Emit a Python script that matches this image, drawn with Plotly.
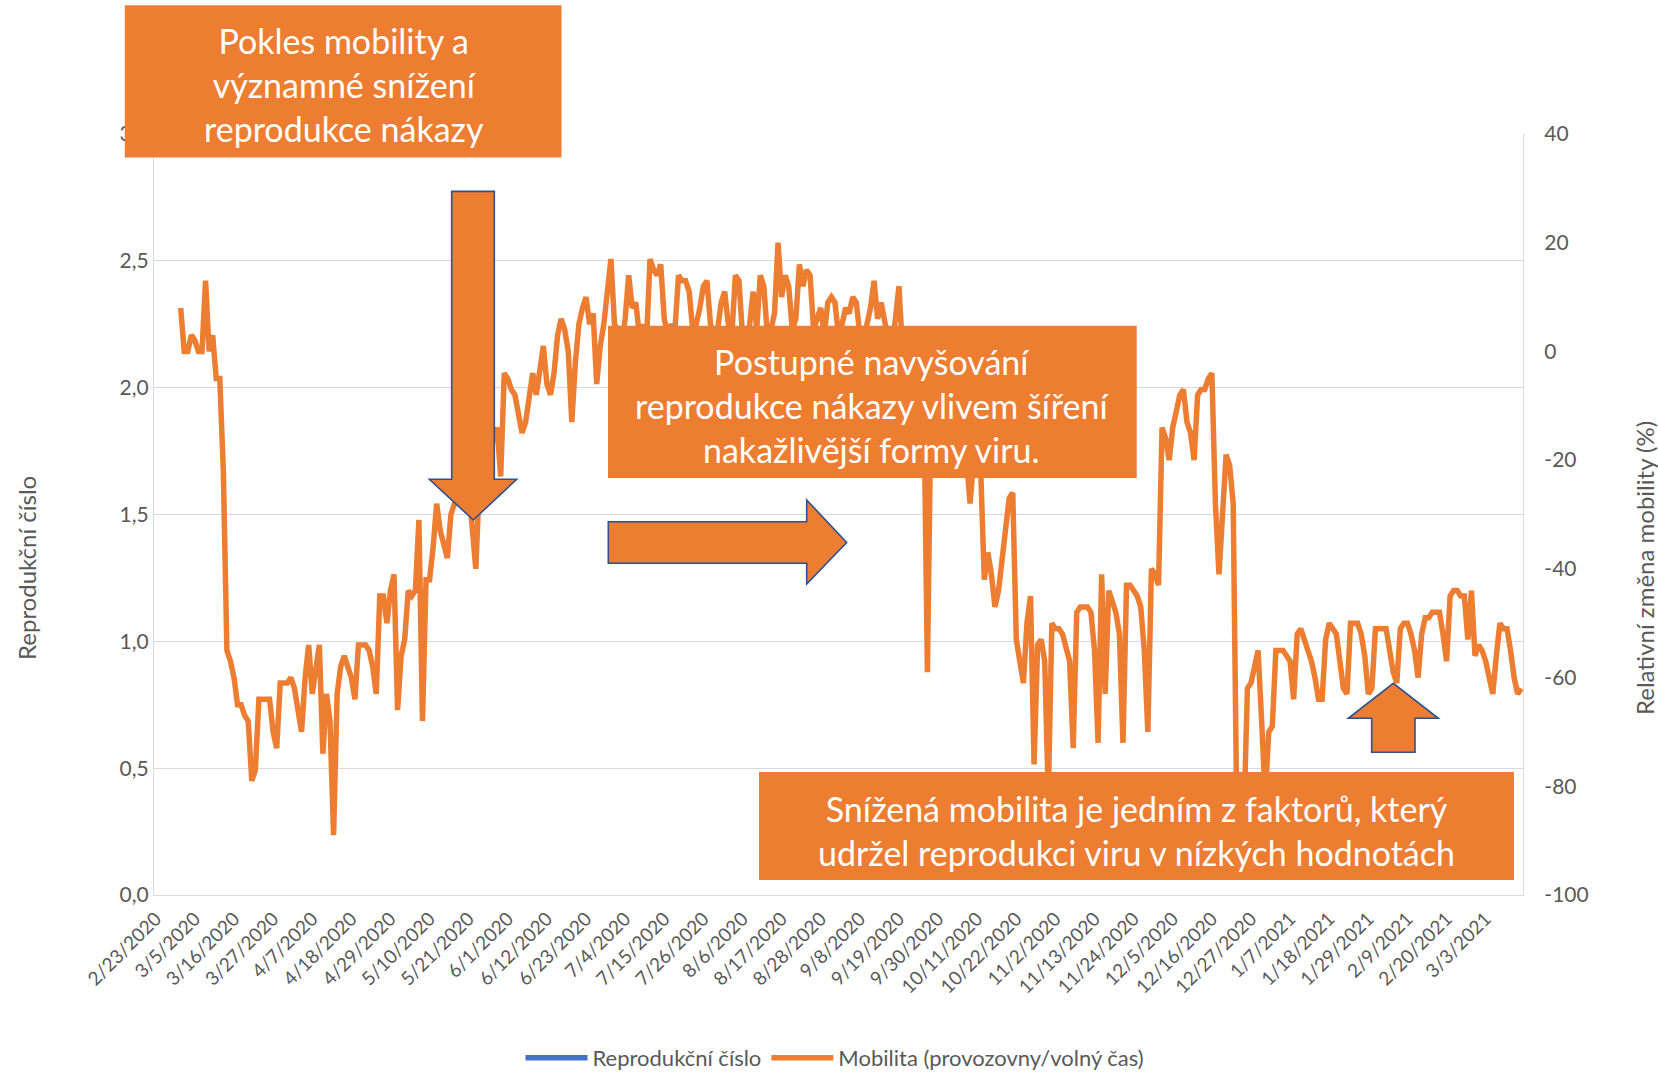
import pandas as pd
import plotly.graph_objects as go

# Relative change of mobility in retail & leisure places (%), one value per day from 1 March 2020
mobility_start = "2020-03-01"
mobility = [
    8, 0, 0, 3, 2, 0, 0,
    13, 0, 3, -5, -5, -22, -55,
    -57, -60, -65, -65, -67, -68, -79,
    -77, -64, -64, -64, -64, -70, -73,
    -61, -61, -61, -60, -62, -66, -70,
    -60, -54, -63, -58, -54, -74, -63,
    -68, -89, -63, -58, -56, -58, -60,
    -64, -54, -54, -54, -55, -58, -63,
    -45, -45, -50, -44, -41, -66, -56,
    -53, -44, -45, -44, -31, -68, -42,
    -42, -36, -28, -33, -36, -38, -30,
    -28, -26, -24, -22, -25, -32, -40,
    -24, -22, -20, -18, -16, -14, -23,
    -4, -5, -7, -8, -12, -15, -13,
    -8, -4, -8, -3, 1, -6, -8,
    -4, 3, 6, 4, 0, -13, -2,
    5, 8, 10, 5, 7, -6, 1,
    5, 12, 17, 5, 4, 1, 6,
    14, 8, 9, 3, 5, 2, 17,
    15, 14, 16, 6, 3, 5, 4,
    14, 13, 13, 11, 4, 5, 8,
    12, 13, 5, 3, 4, 9, 11,
    5, 3, 14, 13, 3, 2, 5,
    11, 4, 14, 12, 3, 4, 7,
    20, 10, 14, 12, 4, 6, 16,
    12, 15, 14, 4, 6, 8, 3,
    9, 10, 9, 3, 5, 8, 7,
    10, 9, 3, 2, 5, 8, 13,
    6, 9, 5, 2, 0, 6, 12,
    0, -3, -2, -5, -4, -6, -8,
    -59, -10, -8, -10, -12, -14, -15,
    -18, -20, -16, -18, -20, -28, -20,
    -18, -22, -42, -37, -41, -47, -44,
    -38, -33, -27, -26, -53, -57, -61,
    -50, -45, -76, -54, -53, -57, -82,
    -50, -51, -51, -52, -55, -57, -73,
    -48, -47, -47, -47, -48, -55, -72,
    -41, -63, -44, -46, -48, -52, -72,
    -43, -43, -44, -45, -47, -55, -70,
    -40, -41, -43, -14, -16, -20, -14,
    -11, -8, -7, -13, -15, -20, -8,
    -7, -7, -5, -4, -28, -41, -30,
    -19, -21, -28, -85, -90, -86, -62,
    -61, -58, -55, -68, -82, -70, -69,
    -55, -55, -55, -56, -57, -64, -52,
    -51, -53, -55, -57, -60, -64, -64,
    -53, -50, -51, -52, -57, -62, -63,
    -50, -50, -50, -52, -56, -63, -62,
    -51, -51, -51, -51, -55, -59, -61,
    -51, -50, -50, -52, -55, -60, -52,
    -49, -49, -48, -48, -48, -52, -57,
    -45, -44, -44, -45, -45, -53, -44,
    -56, -54, -55, -57, -60, -63, -56,
    -50, -51, -51, -55, -60, -63, -62,
]

# Reproduction number series (no values in this view)
reprodukcni_cislo_x = [None]
reprodukcni_cislo = [None]

# Category axis: first and last day shown
axis_first_day = "2020-02-23"
axis_last_day = "2021-03-13"

date_tick_labels = [
    "2/23/2020", "3/5/2020", "3/16/2020", "3/27/2020", "4/7/2020", "4/18/2020",
    "4/29/2020", "5/10/2020", "5/21/2020", "6/1/2020", "6/12/2020", "6/23/2020",
    "7/4/2020", "7/15/2020", "7/26/2020", "8/6/2020", "8/17/2020", "8/28/2020",
    "9/8/2020", "9/19/2020", "9/30/2020", "10/11/2020", "10/22/2020", "11/2/2020",
    "11/13/2020", "11/24/2020", "12/5/2020", "12/16/2020", "12/27/2020", "1/7/2021",
    "1/18/2021", "1/29/2021", "2/9/2021", "2/20/2021", "3/3/2021",
]

left_ticks = [0.0, 0.5, 1.0, 1.5, 2.0, 2.5, 3.0]
left_tick_text = ["0,0", "0,5", "1,0", "1,5", "2,0", "2,5", "3,0"]
right_ticks = [-100, -80, -60, -40, -20, 0, 20, 40]
right_tick_text = ["-100", "-80", "-60", "-40", "-20", "0", "20", "40"]

left_title = "Reprodukční číslo"
right_title = "Relativní změna mobility (%)"
series_names = ["Reprodukční číslo", "Mobilita (provozovny/volný čas)"]

callout_texts = [
    "Pokles mobility a<br>významné snížení<br>reprodukce nákazy",
    "Postupné navyšování<br>reprodukce nákazy vlivem šíření<br>nakažlivější formy viru.",
    "Snížená mobilita je jedním z faktorů, který<br>udržel reprodukci viru v nízkých hodnotách",
]

# ---- styling / geometry ----
W, H = 1658, 1072
ML, MR, MT, MB = 154, 135, 134, 177
PW, PH = W - ML - MR, H - MT - MB
FONT = "Lato"
ORANGE = "#ED7D31"
BLUE = "#4472C4"
EDGE = "#2F528F"
GRID = "#D9D9D9"
TXT = "#595959"


def px(x):
    return (x - ML) / PW


def py(y):
    return (H - MB - y) / PH


def poly(points):
    return "M " + " L ".join(f"{px(x):.5f},{py(y):.5f}" for x, y in points) + " Z"


dates = pd.date_range(start=mobility_start, periods=len(mobility), freq="D")
tickvals = pd.to_datetime(date_tick_labels, format="%m/%d/%Y")
x_range = [pd.Timestamp(axis_first_day) - pd.Timedelta(hours=12),
           pd.Timestamp(axis_last_day) + pd.Timedelta(hours=12)]

fig = go.Figure()
fig.add_trace(go.Scatter(
    x=reprodukcni_cislo_x, y=reprodukcni_cislo, name=series_names[0], mode="lines",
    line=dict(color=BLUE, width=5.5), yaxis="y", hoverinfo="skip",
))
fig.add_trace(go.Scatter(
    x=dates, y=mobility, name=series_names[1], mode="lines",
    line=dict(color=ORANGE, width=5.5), yaxis="y2",
))

xtickfont = dict(family=FONT, size=19, color=TXT)
ytickfont = dict(family=FONT, size=21, color=TXT)

shapes = []
annotations = []

# callout boxes (pixel rectangles) with white text
boxes = [
    ((124.8, 5.3, 561.5, 157.6), (343.5, 85.0)),
    ((608.0, 325.7, 1136.7, 478.0), (872.4, 405.5)),
    ((759.0, 772.0, 1514.0, 880.0), (1136.5, 830.0)),
]
for (x0, y0, x1, y1), _ in boxes:
    shapes.append(dict(type="rect", xref="paper", yref="paper",
                       x0=px(x0), x1=px(x1), y0=py(y1), y1=py(y0),
                       fillcolor=ORANGE, line=dict(width=0), layer="above"))

# block arrows
arrows = [
    [(451.7, 191.4), (494.3, 191.4), (494.3, 479.3), (516.7, 479.3), (473.3, 520.0),
     (429.3, 479.3), (451.7, 479.3)],
    [(608.3, 521.7), (806.7, 521.7), (806.7, 500.0), (846.7, 542.5), (806.7, 584.0),
     (806.7, 563.3), (608.3, 563.3)],
    [(1371.7, 752.3), (1415.0, 752.3), (1415.0, 718.3), (1438.3, 718.3), (1393.3, 683.3),
     (1348.3, 718.3), (1371.7, 718.3)],
]
for pts in arrows:
    shapes.append(dict(type="path", xref="paper", yref="paper", path=poly(pts),
                       fillcolor=ORANGE, line=dict(color=EDGE, width=1.6), layer="above"))

for text, (_, (cx, cy)) in zip(callout_texts, boxes):
    annotations.append(dict(xref="paper", yref="paper", x=px(cx), y=py(cy),
                            xanchor="center", yanchor="middle", text=text, showarrow=False,
                            align="center", font=dict(family=FONT, size=34, color="#FFFFFF")))

# axis titles
annotations.append(dict(xref="paper", yref="paper", x=px(26), y=py(568), text=left_title,
                        textangle=-90, showarrow=False, xanchor="center", yanchor="middle",
                        font=dict(family=FONT, size=24, color=TXT)))
annotations.append(dict(xref="paper", yref="paper", x=px(1644), y=py(568), text=right_title,
                        textangle=-90, showarrow=False, xanchor="center", yanchor="middle",
                        font=dict(family=FONT, size=24, color=TXT)))

fig.update_layout(
    width=W, height=H,
    margin=dict(l=ML, r=MR, t=MT, b=MB, autoexpand=False),
    paper_bgcolor="white", plot_bgcolor="white",
    font=dict(family=FONT, color=TXT),
    showlegend=True,
    legend=dict(orientation="h", x=px(835), xanchor="center", y=py(1058), yanchor="middle",
                font=dict(family=FONT, size=22, color=TXT), itemwidth=62,
                bgcolor="rgba(0,0,0,0)"),
    xaxis=dict(type="date", range=x_range, tickmode="array", tickvals=tickvals,
               ticktext=date_tick_labels, tickangle=-45, tickfont=xtickfont,
               showgrid=False, zeroline=False, showline=True, linecolor=GRID, linewidth=1.3,
               ticks="", ticklabelstandoff=4),
    yaxis=dict(range=[0, 3], tickmode="array", tickvals=left_ticks, ticktext=left_tick_text,
               tickfont=ytickfont, showgrid=True, gridcolor=GRID, gridwidth=1.3,
               zeroline=False, showline=True, linecolor=GRID, linewidth=1.3, ticks=""),
    yaxis2=dict(range=[-100, 40], overlaying="y", side="right", tickmode="array",
                tickvals=right_ticks, ticktext=right_tick_text, tickfont=ytickfont,
                showgrid=False, zeroline=False, showline=True, linecolor=GRID, linewidth=1.3,
                ticks="", ticklabelstandoff=16),
    shapes=shapes,
    annotations=annotations,
    hovermode=False,
)

fig.write_html("out.html")
